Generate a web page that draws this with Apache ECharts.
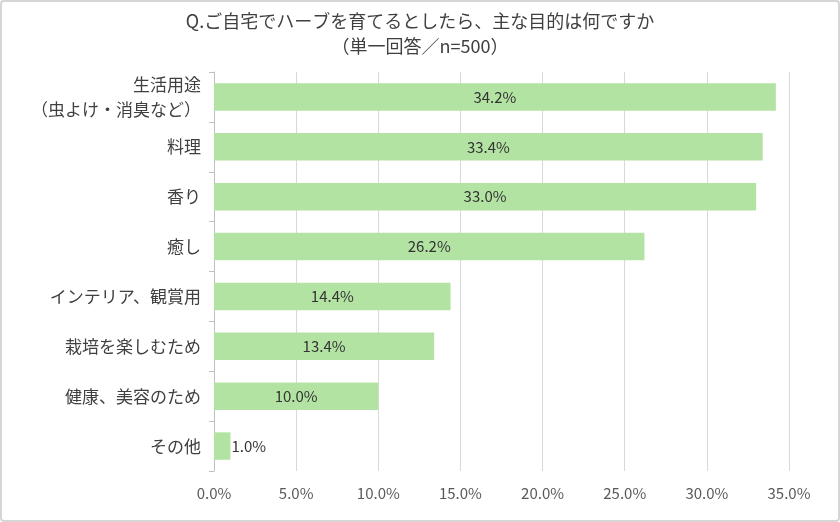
<!DOCTYPE html>
<html><head><meta charset="utf-8">
<script src="https://cdn.jsdelivr.net/npm/echarts@6/dist/echarts.min.js"></script>
<style>
html,body{margin:0;padding:0;background:#fff;}
#c{position:absolute;left:0;top:0;width:836px;height:518px;border:2px solid #d6d6d6;border-radius:4px;}
</style></head><body>
<div id="c"></div>
<script>
const titleLines = ['Q.ご自宅でハーブを育てるとしたら、主な目的は何ですか', '（単一回答／n=500）'];
const categories = ['生活用途\n（虫よけ・消臭など）', '料理', '香り', '癒し', 'インテリア、観賞用', '栽培を楽しむため', '健康、美容のため', 'その他'];
const values = [34.2, 33.4, 33.0, 26.2, 14.4, 13.4, 10.0, 1.0];
const xTicks = [0, 5, 10, 15, 20, 25, 30, 35];

const font = '"Noto Sans CJK JP", "Noto Sans", sans-serif';
const chart = echarts.init(document.getElementById('c'));
chart.setOption({
  animation: false,
  title: {
    text: titleLines.join('\n'),
    left: 'center', top: 2,
    textStyle: {fontFamily: font, fontSize: 18, fontWeight: 'normal', color: '#404040', lineHeight: 25}
  },
  grid: {left: 212, right: 49, top: 70, bottom: 49, containLabel: false},
  xAxis: {
    type: 'value', min: xTicks[0], max: xTicks[xTicks.length - 1], interval: 5,
    axisLine: {show: false}, axisTick: {show: false},
    splitLine: {lineStyle: {color: '#d9d9d9', width: 1}},
    axisLabel: {fontFamily: font, fontSize: 15, color: '#595959', margin: 15,
      formatter: v => v.toFixed(1) + '%'}
  },
  yAxis: {
    type: 'category', data: categories, inverse: true,
    axisLine: {lineStyle: {color: '#bfbfbf'}},
    axisTick: {show: true, length: 5, lineStyle: {color: '#bfbfbf'}},
    axisLabel: {fontFamily: font, fontSize: 17, color: '#404040', margin: 13, align: 'right', lineHeight: 25}
  },
  series: [{
    type: 'bar',
    data: values.map((v, i) => ({
      value: v,
      label: v < 5 ? {position: 'right', distance: 1} : {position: 'inside'}
    })),
    barCategoryGap: '45%',
    itemStyle: {color: '#b3e3a2'},
    label: {show: true, fontFamily: font, fontSize: 15, color: '#333333',
      formatter: p => p.value.toFixed(1) + '%'}
  }]
});
</script>
</body></html>
